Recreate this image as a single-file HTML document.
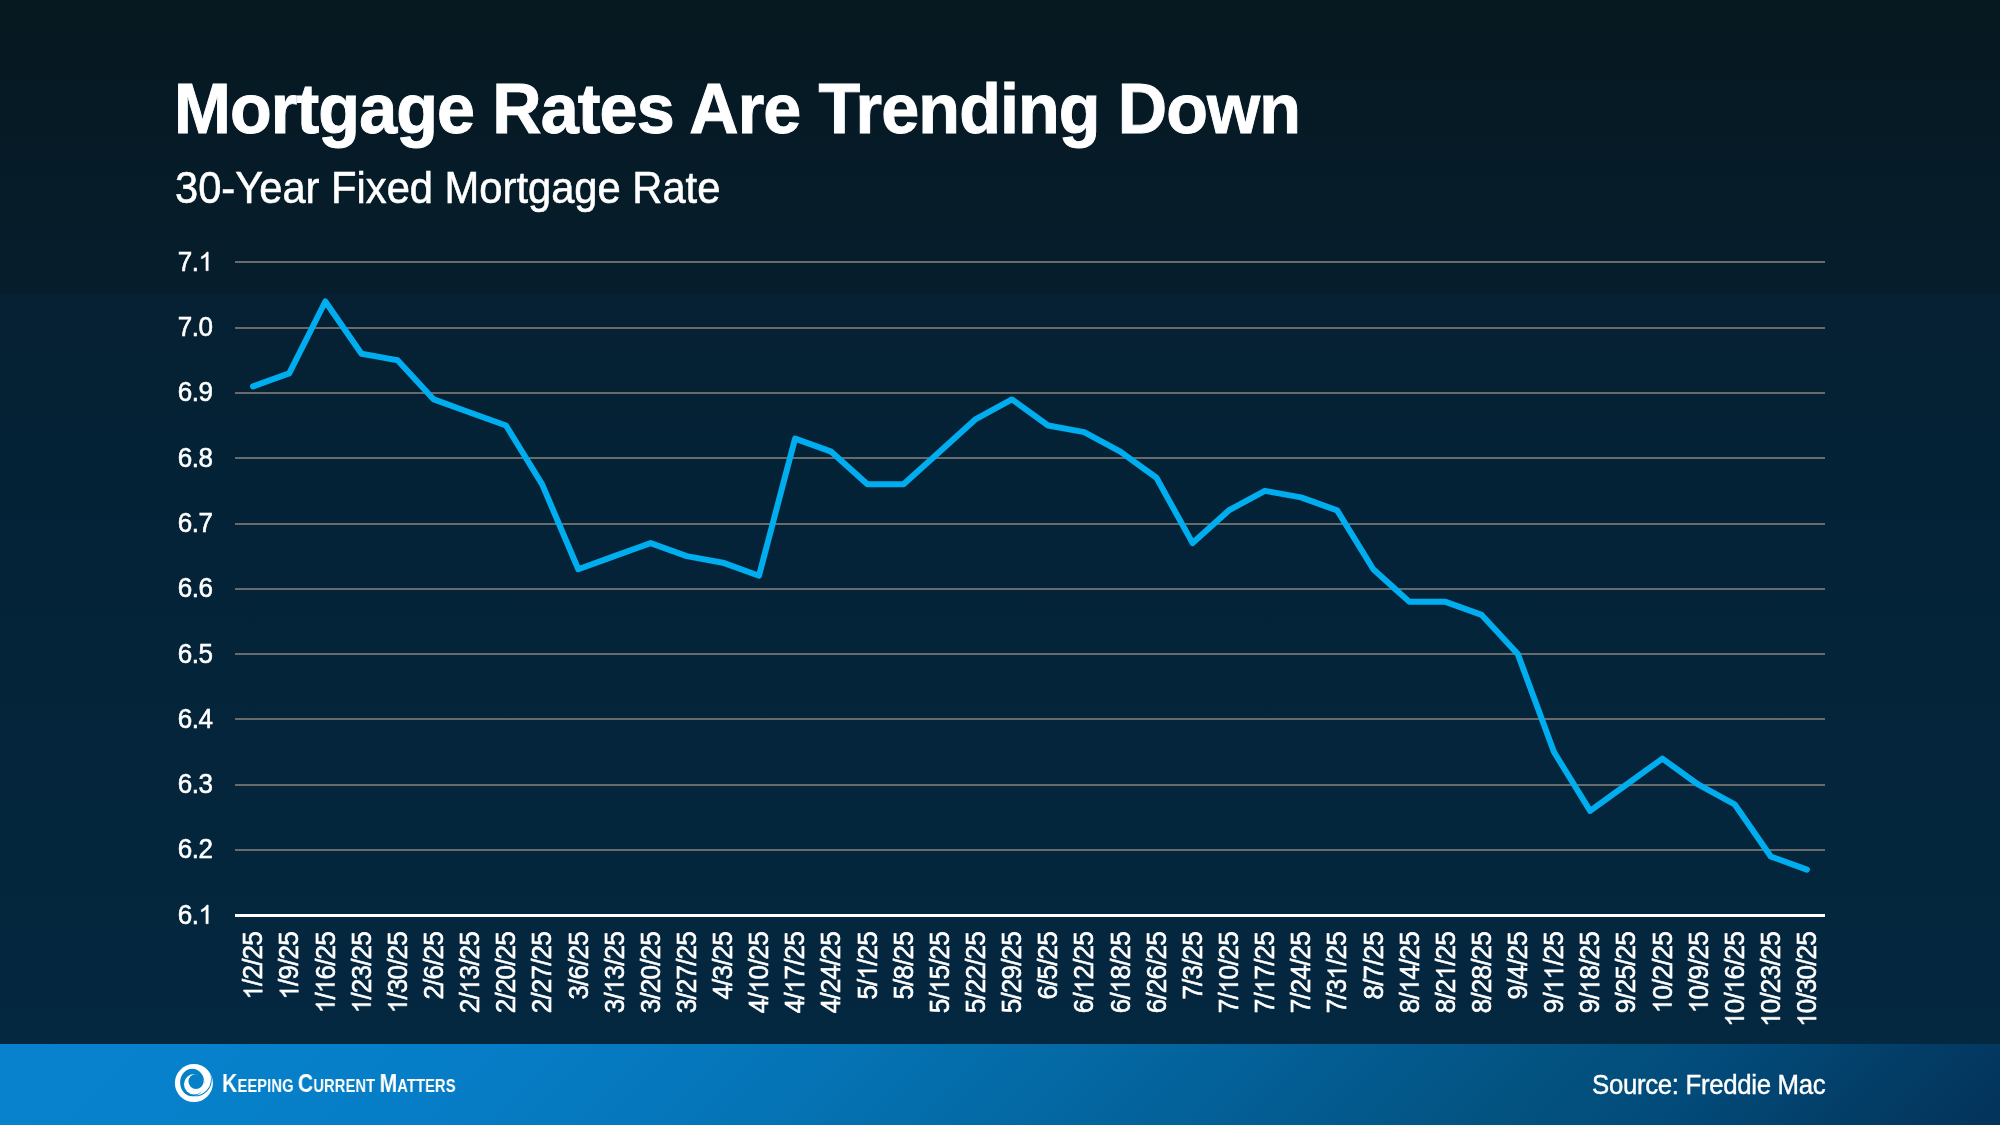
<!DOCTYPE html>
<html><head><meta charset="utf-8">
<style>
html,body{margin:0;padding:0;}
body{width:2000px;height:1125px;overflow:hidden;position:relative;font-family:"Liberation Sans",sans-serif;
background:linear-gradient(180deg,#06181f 0px,#061a25 100px,#061c29 200px,#061d2c 293px,#052032 294px,#052235 400px,#042338 550px,#04253b 750px,#04273f 990px,#03283f 1044px);}
.t{position:absolute;color:#fff;white-space:nowrap;transform-origin:0 100%;will-change:transform}
#title{left:173.6px;top:70px;font-size:68.3px;font-weight:bold;line-height:80px;letter-spacing:-0.9px;transform:scaleY(1.042);-webkit-text-stroke:0.9px #fff}
#sub{left:174.6px;top:164px;font-size:41.7px;line-height:50px;transform:scaleY(1.042);-webkit-text-stroke:0.55px #fff}
#footer{position:absolute;left:0;top:1044px;width:2000px;height:81px;
background:linear-gradient(135deg,#0882cc 0%,#0781cb 10%,#067dc6 24%,#0575b8 38%,#046aa6 51%,#035c92 65%,#03527f 76%,#024a79 84%,#033f69 91%,#03335a 100%);}
#src{left:1592px;top:1069.3px;font-size:25.8px;line-height:32px;letter-spacing:-0.32px;transform:scaleY(1.042);-webkit-text-stroke:0.4px #fff}
#kcm{left:221.6px;top:1065.7px;font-weight:bold;transform-origin:0 100%;transform:scale(0.805,1);line-height:34px;font-size:18.2px;letter-spacing:0.2px}
#kcm b{font-size:26.2px}
svg{position:absolute;left:0;top:0;will-change:transform}
.g rect{fill:#686b6b}
.yl text,.xl text{font-family:"Liberation Sans",sans-serif;fill:#fff;stroke:#fff;stroke-width:0.55}
.yl text{font-size:26.0px;letter-spacing:-0.5px}
.xl text{font-size:26.0px;letter-spacing:-0.8px}
.h{fill:none;stroke:none}
.one{fill:#fff;stroke:#fff;stroke-width:42}
</style></head><body>
<div id="title" class="t">Mortgage Rates Are Trending Down</div>
<div id="sub" class="t">30-Year Fixed Mortgage Rate</div>
<svg width="2000" height="1125" viewBox="0 0 2000 1125">
<g class="g">
<rect x="235.0" y="261" width="1590.0" height="2"/>
<rect x="235.0" y="327" width="1590.0" height="2"/>
<rect x="235.0" y="392" width="1590.0" height="2"/>
<rect x="235.0" y="457" width="1590.0" height="2"/>
<rect x="235.0" y="523" width="1590.0" height="2"/>
<rect x="235.0" y="588" width="1590.0" height="2"/>
<rect x="235.0" y="653" width="1590.0" height="2"/>
<rect x="235.0" y="718" width="1590.0" height="2"/>
<rect x="235.0" y="784" width="1590.0" height="2"/>
<rect x="235.0" y="849" width="1590.0" height="2"/>
</g>
<rect x="235.0" y="914" width="1590.0" height="3" fill="#fff"/>
<g class="yl">
<g transform="translate(213.0,270.70)"><text x="-35.14" y="0" transform="scale(1,1.042)">7.<tspan class="h">1</tspan></text><path class="one" transform="translate(-14.46,0) scale(0.01270,-0.01270)" d="M763 0H583V1147Q518 1085 412.5 1023T223 930V1104Q374 1175 487 1276T647 1472H763Z"/></g>
<g transform="translate(213.0,336.00)"><text x="-35.14" y="0" transform="scale(1,1.042)">7.0</text></g>
<g transform="translate(213.0,401.30)"><text x="-35.14" y="0" transform="scale(1,1.042)">6.9</text></g>
<g transform="translate(213.0,466.60)"><text x="-35.14" y="0" transform="scale(1,1.042)">6.8</text></g>
<g transform="translate(213.0,531.90)"><text x="-35.14" y="0" transform="scale(1,1.042)">6.7</text></g>
<g transform="translate(213.0,597.20)"><text x="-35.14" y="0" transform="scale(1,1.042)">6.6</text></g>
<g transform="translate(213.0,662.50)"><text x="-35.14" y="0" transform="scale(1,1.042)">6.5</text></g>
<g transform="translate(213.0,727.80)"><text x="-35.14" y="0" transform="scale(1,1.042)">6.4</text></g>
<g transform="translate(213.0,793.10)"><text x="-35.14" y="0" transform="scale(1,1.042)">6.3</text></g>
<g transform="translate(213.0,858.40)"><text x="-35.14" y="0" transform="scale(1,1.042)">6.2</text></g>
<g transform="translate(213.0,923.70)"><text x="-35.14" y="0" transform="scale(1,1.042)">6.<tspan class="h">1</tspan></text><path class="one" transform="translate(-14.46,0) scale(0.01270,-0.01270)" d="M763 0H583V1147Q518 1085 412.5 1023T223 930V1104Q374 1175 487 1276T647 1472H763Z"/></g>
</g>
<g class="xl">
<g transform="translate(262.27,931.3) rotate(-90)"><text x="-68.29" y="0" transform="scale(1,1.042)"><tspan class="h">1</tspan>/2/25</text><path class="one" transform="translate(-68.29,0) scale(0.01270,-0.01270)" d="M763 0H583V1147Q518 1085 412.5 1023T223 930V1104Q374 1175 487 1276T647 1472H763Z"/></g>
<g transform="translate(298.40,931.3) rotate(-90)"><text x="-68.29" y="0" transform="scale(1,1.042)"><tspan class="h">1</tspan>/9/25</text><path class="one" transform="translate(-68.29,0) scale(0.01270,-0.01270)" d="M763 0H583V1147Q518 1085 412.5 1023T223 930V1104Q374 1175 487 1276T647 1472H763Z"/></g>
<g transform="translate(334.54,931.3) rotate(-90)"><text x="-81.95" y="0" transform="scale(1,1.042)"><tspan class="h">1</tspan>/<tspan class="h">1</tspan>6/25</text><path class="one" transform="translate(-81.95,0) scale(0.01270,-0.01270)" d="M763 0H583V1147Q518 1085 412.5 1023T223 930V1104Q374 1175 487 1276T647 1472H763Z"/><path class="one" transform="translate(-61.86,0) scale(0.01270,-0.01270)" d="M763 0H583V1147Q518 1085 412.5 1023T223 930V1104Q374 1175 487 1276T647 1472H763Z"/></g>
<g transform="translate(370.68,931.3) rotate(-90)"><text x="-81.95" y="0" transform="scale(1,1.042)"><tspan class="h">1</tspan>/23/25</text><path class="one" transform="translate(-81.95,0) scale(0.01270,-0.01270)" d="M763 0H583V1147Q518 1085 412.5 1023T223 930V1104Q374 1175 487 1276T647 1472H763Z"/></g>
<g transform="translate(406.81,931.3) rotate(-90)"><text x="-81.95" y="0" transform="scale(1,1.042)"><tspan class="h">1</tspan>/30/25</text><path class="one" transform="translate(-81.95,0) scale(0.01270,-0.01270)" d="M763 0H583V1147Q518 1085 412.5 1023T223 930V1104Q374 1175 487 1276T647 1472H763Z"/></g>
<g transform="translate(442.95,931.3) rotate(-90)"><text x="-68.29" y="0" transform="scale(1,1.042)">2/6/25</text></g>
<g transform="translate(479.09,931.3) rotate(-90)"><text x="-81.95" y="0" transform="scale(1,1.042)">2/<tspan class="h">1</tspan>3/25</text><path class="one" transform="translate(-61.86,0) scale(0.01270,-0.01270)" d="M763 0H583V1147Q518 1085 412.5 1023T223 930V1104Q374 1175 487 1276T647 1472H763Z"/></g>
<g transform="translate(515.22,931.3) rotate(-90)"><text x="-81.95" y="0" transform="scale(1,1.042)">2/20/25</text></g>
<g transform="translate(551.36,931.3) rotate(-90)"><text x="-81.95" y="0" transform="scale(1,1.042)">2/27/25</text></g>
<g transform="translate(587.50,931.3) rotate(-90)"><text x="-68.29" y="0" transform="scale(1,1.042)">3/6/25</text></g>
<g transform="translate(623.63,931.3) rotate(-90)"><text x="-81.95" y="0" transform="scale(1,1.042)">3/<tspan class="h">1</tspan>3/25</text><path class="one" transform="translate(-61.86,0) scale(0.01270,-0.01270)" d="M763 0H583V1147Q518 1085 412.5 1023T223 930V1104Q374 1175 487 1276T647 1472H763Z"/></g>
<g transform="translate(659.77,931.3) rotate(-90)"><text x="-81.95" y="0" transform="scale(1,1.042)">3/20/25</text></g>
<g transform="translate(695.90,931.3) rotate(-90)"><text x="-81.95" y="0" transform="scale(1,1.042)">3/27/25</text></g>
<g transform="translate(732.04,931.3) rotate(-90)"><text x="-68.29" y="0" transform="scale(1,1.042)">4/3/25</text></g>
<g transform="translate(768.18,931.3) rotate(-90)"><text x="-81.95" y="0" transform="scale(1,1.042)">4/<tspan class="h">1</tspan>0/25</text><path class="one" transform="translate(-61.86,0) scale(0.01270,-0.01270)" d="M763 0H583V1147Q518 1085 412.5 1023T223 930V1104Q374 1175 487 1276T647 1472H763Z"/></g>
<g transform="translate(804.31,931.3) rotate(-90)"><text x="-81.95" y="0" transform="scale(1,1.042)">4/<tspan class="h">1</tspan>7/25</text><path class="one" transform="translate(-61.86,0) scale(0.01270,-0.01270)" d="M763 0H583V1147Q518 1085 412.5 1023T223 930V1104Q374 1175 487 1276T647 1472H763Z"/></g>
<g transform="translate(840.45,931.3) rotate(-90)"><text x="-81.95" y="0" transform="scale(1,1.042)">4/24/25</text></g>
<g transform="translate(876.59,931.3) rotate(-90)"><text x="-68.29" y="0" transform="scale(1,1.042)">5/<tspan class="h">1</tspan>/25</text><path class="one" transform="translate(-48.20,0) scale(0.01270,-0.01270)" d="M763 0H583V1147Q518 1085 412.5 1023T223 930V1104Q374 1175 487 1276T647 1472H763Z"/></g>
<g transform="translate(912.72,931.3) rotate(-90)"><text x="-68.29" y="0" transform="scale(1,1.042)">5/8/25</text></g>
<g transform="translate(948.86,931.3) rotate(-90)"><text x="-81.95" y="0" transform="scale(1,1.042)">5/<tspan class="h">1</tspan>5/25</text><path class="one" transform="translate(-61.86,0) scale(0.01270,-0.01270)" d="M763 0H583V1147Q518 1085 412.5 1023T223 930V1104Q374 1175 487 1276T647 1472H763Z"/></g>
<g transform="translate(985.00,931.3) rotate(-90)"><text x="-81.95" y="0" transform="scale(1,1.042)">5/22/25</text></g>
<g transform="translate(1021.13,931.3) rotate(-90)"><text x="-81.95" y="0" transform="scale(1,1.042)">5/29/25</text></g>
<g transform="translate(1057.27,931.3) rotate(-90)"><text x="-68.29" y="0" transform="scale(1,1.042)">6/5/25</text></g>
<g transform="translate(1093.40,931.3) rotate(-90)"><text x="-81.95" y="0" transform="scale(1,1.042)">6/<tspan class="h">1</tspan>2/25</text><path class="one" transform="translate(-61.86,0) scale(0.01270,-0.01270)" d="M763 0H583V1147Q518 1085 412.5 1023T223 930V1104Q374 1175 487 1276T647 1472H763Z"/></g>
<g transform="translate(1129.54,931.3) rotate(-90)"><text x="-81.95" y="0" transform="scale(1,1.042)">6/<tspan class="h">1</tspan>8/25</text><path class="one" transform="translate(-61.86,0) scale(0.01270,-0.01270)" d="M763 0H583V1147Q518 1085 412.5 1023T223 930V1104Q374 1175 487 1276T647 1472H763Z"/></g>
<g transform="translate(1165.68,931.3) rotate(-90)"><text x="-81.95" y="0" transform="scale(1,1.042)">6/26/25</text></g>
<g transform="translate(1201.81,931.3) rotate(-90)"><text x="-68.29" y="0" transform="scale(1,1.042)">7/3/25</text></g>
<g transform="translate(1237.95,931.3) rotate(-90)"><text x="-81.95" y="0" transform="scale(1,1.042)">7/<tspan class="h">1</tspan>0/25</text><path class="one" transform="translate(-61.86,0) scale(0.01270,-0.01270)" d="M763 0H583V1147Q518 1085 412.5 1023T223 930V1104Q374 1175 487 1276T647 1472H763Z"/></g>
<g transform="translate(1274.09,931.3) rotate(-90)"><text x="-81.95" y="0" transform="scale(1,1.042)">7/<tspan class="h">1</tspan>7/25</text><path class="one" transform="translate(-61.86,0) scale(0.01270,-0.01270)" d="M763 0H583V1147Q518 1085 412.5 1023T223 930V1104Q374 1175 487 1276T647 1472H763Z"/></g>
<g transform="translate(1310.22,931.3) rotate(-90)"><text x="-81.95" y="0" transform="scale(1,1.042)">7/24/25</text></g>
<g transform="translate(1346.36,931.3) rotate(-90)"><text x="-81.95" y="0" transform="scale(1,1.042)">7/3<tspan class="h">1</tspan>/25</text><path class="one" transform="translate(-48.20,0) scale(0.01270,-0.01270)" d="M763 0H583V1147Q518 1085 412.5 1023T223 930V1104Q374 1175 487 1276T647 1472H763Z"/></g>
<g transform="translate(1382.50,931.3) rotate(-90)"><text x="-68.29" y="0" transform="scale(1,1.042)">8/7/25</text></g>
<g transform="translate(1418.63,931.3) rotate(-90)"><text x="-81.95" y="0" transform="scale(1,1.042)">8/<tspan class="h">1</tspan>4/25</text><path class="one" transform="translate(-61.86,0) scale(0.01270,-0.01270)" d="M763 0H583V1147Q518 1085 412.5 1023T223 930V1104Q374 1175 487 1276T647 1472H763Z"/></g>
<g transform="translate(1454.77,931.3) rotate(-90)"><text x="-81.95" y="0" transform="scale(1,1.042)">8/2<tspan class="h">1</tspan>/25</text><path class="one" transform="translate(-48.20,0) scale(0.01270,-0.01270)" d="M763 0H583V1147Q518 1085 412.5 1023T223 930V1104Q374 1175 487 1276T647 1472H763Z"/></g>
<g transform="translate(1490.90,931.3) rotate(-90)"><text x="-81.95" y="0" transform="scale(1,1.042)">8/28/25</text></g>
<g transform="translate(1527.04,931.3) rotate(-90)"><text x="-68.29" y="0" transform="scale(1,1.042)">9/4/25</text></g>
<g transform="translate(1563.18,931.3) rotate(-90)"><text x="-81.95" y="0" transform="scale(1,1.042)">9/<tspan class="h">1</tspan><tspan class="h">1</tspan>/25</text><path class="one" transform="translate(-61.86,0) scale(0.01270,-0.01270)" d="M763 0H583V1147Q518 1085 412.5 1023T223 930V1104Q374 1175 487 1276T647 1472H763Z"/><path class="one" transform="translate(-48.20,0) scale(0.01270,-0.01270)" d="M763 0H583V1147Q518 1085 412.5 1023T223 930V1104Q374 1175 487 1276T647 1472H763Z"/></g>
<g transform="translate(1599.31,931.3) rotate(-90)"><text x="-81.95" y="0" transform="scale(1,1.042)">9/<tspan class="h">1</tspan>8/25</text><path class="one" transform="translate(-61.86,0) scale(0.01270,-0.01270)" d="M763 0H583V1147Q518 1085 412.5 1023T223 930V1104Q374 1175 487 1276T647 1472H763Z"/></g>
<g transform="translate(1635.45,931.3) rotate(-90)"><text x="-81.95" y="0" transform="scale(1,1.042)">9/25/25</text></g>
<g transform="translate(1671.59,931.3) rotate(-90)"><text x="-81.95" y="0" transform="scale(1,1.042)"><tspan class="h">1</tspan>0/2/25</text><path class="one" transform="translate(-81.95,0) scale(0.01270,-0.01270)" d="M763 0H583V1147Q518 1085 412.5 1023T223 930V1104Q374 1175 487 1276T647 1472H763Z"/></g>
<g transform="translate(1707.72,931.3) rotate(-90)"><text x="-81.95" y="0" transform="scale(1,1.042)"><tspan class="h">1</tspan>0/9/25</text><path class="one" transform="translate(-81.95,0) scale(0.01270,-0.01270)" d="M763 0H583V1147Q518 1085 412.5 1023T223 930V1104Q374 1175 487 1276T647 1472H763Z"/></g>
<g transform="translate(1743.86,931.3) rotate(-90)"><text x="-95.61" y="0" transform="scale(1,1.042)"><tspan class="h">1</tspan>0/<tspan class="h">1</tspan>6/25</text><path class="one" transform="translate(-95.61,0) scale(0.01270,-0.01270)" d="M763 0H583V1147Q518 1085 412.5 1023T223 930V1104Q374 1175 487 1276T647 1472H763Z"/><path class="one" transform="translate(-61.86,0) scale(0.01270,-0.01270)" d="M763 0H583V1147Q518 1085 412.5 1023T223 930V1104Q374 1175 487 1276T647 1472H763Z"/></g>
<g transform="translate(1780.00,931.3) rotate(-90)"><text x="-95.61" y="0" transform="scale(1,1.042)"><tspan class="h">1</tspan>0/23/25</text><path class="one" transform="translate(-95.61,0) scale(0.01270,-0.01270)" d="M763 0H583V1147Q518 1085 412.5 1023T223 930V1104Q374 1175 487 1276T647 1472H763Z"/></g>
<g transform="translate(1816.13,931.3) rotate(-90)"><text x="-95.61" y="0" transform="scale(1,1.042)"><tspan class="h">1</tspan>0/30/25</text><path class="one" transform="translate(-95.61,0) scale(0.01270,-0.01270)" d="M763 0H583V1147Q518 1085 412.5 1023T223 930V1104Q374 1175 487 1276T647 1472H763Z"/></g>
</g>
<polyline points="253.07,386.37 289.20,373.31 325.34,301.48 361.48,353.72 397.61,360.25 433.75,399.43 469.89,412.49 506.02,425.55 542.16,484.32 578.30,569.21 614.43,556.15 650.57,543.09 686.70,556.15 722.84,562.68 758.98,575.74 795.11,438.61 831.25,451.67 867.39,484.32 903.52,484.32 939.66,451.67 975.80,419.02 1011.93,399.43 1048.07,425.55 1084.20,432.08 1120.34,451.67 1156.48,477.79 1192.61,543.09 1228.75,510.44 1264.89,490.85 1301.02,497.38 1337.16,510.44 1373.30,569.21 1409.43,601.86 1445.57,601.86 1481.70,614.92 1517.84,654.10 1553.98,752.05 1590.11,810.82 1626.25,784.70 1662.39,758.58 1698.52,784.70 1734.66,804.29 1770.80,856.53 1806.93,869.59" fill="none" stroke="#00aeef" stroke-width="6" stroke-linecap="round" stroke-linejoin="round"/>
</svg>
<div id="footer"></div>
<svg width="2000" height="1125" viewBox="0 0 2000 1125">
<g transform="translate(165,1055) scale(0.0533)">
<circle cx="542" cy="527" r="357" fill="#fff"/>
<ellipse cx="510" cy="517" rx="226" ry="257" fill="#0780ca"/>
<circle cx="548" cy="548" r="192" fill="#fff"/>
<circle cx="582" cy="497" r="142" fill="#0780ca"/>
<path d="M 778.7 234.3 A 313 313 0 1 1 336.3 676.7 A 313 313 0 0 0 778.7 234.3 Z" fill="#0780ca"/>
</g>
</svg>
<div id="kcm" class="t"><b>K</b>EEPING <b>C</b>URRENT <b>M</b>ATTERS</div>
<div id="src" class="t">Source: Freddie Mac</div>
</body></html>
